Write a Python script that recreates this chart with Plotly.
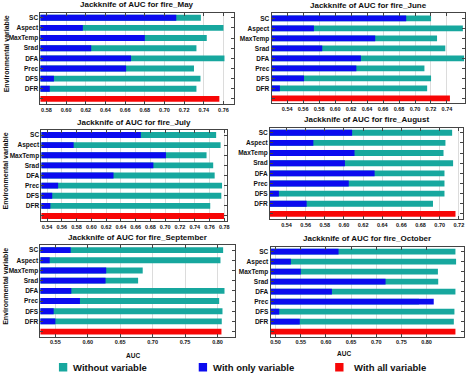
import plotly.graph_objects as go

# ---------------- data ----------------
variables = ["SC", "Aspect", "MaxTemp", "Srad", "DFA", "Prec", "DFS", "DFR"]
months = ["May", "June", "July", "August", "September", "October"]

may_without = [0.737, 0.760, 0.743, 0.7325, 0.761, 0.730, 0.7366, 0.7325]
may_only = [0.712, 0.617, 0.680, 0.6255, 0.666, 0.661, 0.5876, 0.5834]
may_all = 0.7558

june_without = [0.7201, 0.7599, 0.7276, 0.7379, 0.7615, 0.7118, 0.7201, 0.7152]
june_only = [0.689, 0.5735, 0.6502, 0.5839, 0.6323, 0.6266, 0.5611, 0.5309]
june_all = 0.7437

july_without = [0.769, 0.775, 0.756, 0.765, 0.767, 0.777, 0.776, 0.761]
july_only = [0.667, 0.576, 0.701, 0.684, 0.630, 0.555, 0.547, 0.5445]
july_all = 0.7796

august_without = [0.713, 0.706, 0.704, 0.714, 0.705, 0.705, 0.705, 0.693]
august_only = [0.6085, 0.568, 0.611, 0.601, 0.632, 0.605, 0.532, 0.561]
august_all = 0.7165

september_without = [0.8087, 0.8046, 0.6847, 0.6776, 0.8108, 0.8026, 0.8077, 0.8066]
september_only = [0.5736, 0.5413, 0.6284, 0.6274, 0.5746, 0.5879, 0.5474, 0.55]
september_all = 0.8061

october_without = [0.8573, 0.8586, 0.8225, 0.8231, 0.8573, 0.785, 0.8553, 0.8541]
october_only = [0.6251, 0.5304, 0.5501, 0.7185, 0.6119, 0.8142, 0.5073, 0.5481]
october_all = 0.8573

# tick labels per panel
may_ticks = [0.58, 0.60, 0.62, 0.64, 0.66, 0.68, 0.70, 0.72, 0.74, 0.76]
june_ticks = [0.54, 0.56, 0.58, 0.60, 0.62, 0.64, 0.66, 0.68, 0.70, 0.72, 0.74]
july_ticks = [0.54, 0.56, 0.58, 0.60, 0.62, 0.64, 0.66, 0.68, 0.70, 0.72, 0.74, 0.76, 0.78]
august_ticks = [0.54, 0.56, 0.58, 0.60, 0.62, 0.64, 0.66, 0.68, 0.70, 0.72]
september_ticks = [0.55, 0.60, 0.65, 0.70, 0.75, 0.80]
october_ticks = [0.50, 0.55, 0.60, 0.65, 0.70, 0.75, 0.80]

series_without = [may_without, june_without, july_without, august_without, september_without, october_without]
series_only = [may_only, june_only, july_only, august_only, september_only, october_only]
series_all = [may_all, june_all, july_all, august_all, september_all, october_all]
series_ticks = [may_ticks, june_ticks, july_ticks, august_ticks, september_ticks, october_ticks]

# ---------------- style ----------------
W, H = 474, 377
TEAL = "#17A79E"
BLUE = "#0B0BEF"
RED = "#F70606"
FONT = "Liberation Sans"
ALL_CAT = " "

# panel boxes in pixels: x0, x1, y0(top), y1(bottom), x range
panels = [
    (40.7, 235.7, 12.7, 104.0, [0.5739, 0.7709]),
    (273.3, 467.5, 13.3, 103.3, [0.5205, 0.7620]),
    (41.7, 228.0, 130.0, 221.0, [0.5324, 0.7831]),
    (271.7, 466.0, 127.7, 219.0, [0.5227, 0.7244]),
    (40.7, 236.5, 245.0, 336.7, [0.5270, 0.8270]),
    (272.3, 467.0, 246.7, 336.7, [0.4901, 0.8744]),
]


def px(x):
    return x / W


def py(y):
    return 1 - y / H


fig = go.Figure()
layout = dict(
    width=W, height=H,
    margin=dict(l=0, r=0, t=0, b=0),
    paper_bgcolor="white", plot_bgcolor="white",
    barmode="overlay", showlegend=False,
    font=dict(family=FONT, color="#111"),
)
annotations = []
shapes = []
cat_order = [ALL_CAT] + variables[::-1]

for i, (month, wo, on, al, tv, p) in enumerate(zip(months, series_without, series_only,
                                                   series_all, series_ticks, panels)):
    x0, x1, y0, y1, xr = p
    n = "" if i == 0 else str(i + 1)
    xa, ya = "x" + n, "y" + n
    fig.add_trace(go.Bar(x=wo, y=variables, orientation="h", width=0.58,
                         marker=dict(color=TEAL, line=dict(width=0)),
                         name="Without variable", xaxis=xa, yaxis=ya))
    fig.add_trace(go.Bar(x=on, y=variables, orientation="h", width=0.58,
                         marker=dict(color=BLUE, line=dict(width=0)),
                         name="With only variable", xaxis=xa, yaxis=ya))
    fig.add_trace(go.Bar(x=[al], y=[ALL_CAT], orientation="h", width=0.58,
                         marker=dict(color=RED, line=dict(width=0)),
                         name="With all variable", xaxis=xa, yaxis=ya))
    layout["xaxis" + n] = dict(
        domain=[px(x0), px(x1)], anchor=ya, range=xr,
        tickvals=tv, ticktext=["%.2f" % v for v in tv],
        ticks="inside", ticklen=3, tickcolor="#444", mirror="ticks",
        showline=True, linecolor="#444", linewidth=1,
        showgrid=True, gridcolor="#dcdcdc", gridwidth=1, zeroline=False,
        tickfont=dict(size=5.5, family=FONT, weight="bold", color="#111"),
    )
    layout["yaxis" + n] = dict(
        domain=[py(y1), py(y0)], anchor=xa,
        type="category", categoryorder="array", categoryarray=cat_order,
        range=[-0.5, 8.5],
        ticks="inside", ticklen=3, tickcolor="#444", mirror="ticks",
        showline=True, linecolor="#444", linewidth=1,
        showgrid=False, zeroline=False,
        tickfont=dict(size=6.5, family=FONT, weight="bold", color="#111"),
    )
    annotations.append(dict(
        text="Jackknife of AUC for fire_" + month,
        x=px((x0 + x1) / 2), y=py(y0 - 1.5), xref="paper", yref="paper",
        xanchor="center", yanchor="bottom", showarrow=False,
        font=dict(size=8, family=FONT, weight="bold", color="#111"),
    ))
    if i % 2 == 0:
        annotations.append(dict(
            text="Environmental variable", textangle=-90,
            x=px(6), y=py((y0 + y1) / 2 - 5), xref="paper", yref="paper",
            xanchor="center", yanchor="middle", showarrow=False,
            font=dict(size=7, family=FONT, weight="bold", color="#111"),
        ))

annotations.append(dict(text="AUC", x=px(134), y=py(355), xref="paper", yref="paper",
                        showarrow=False, xanchor="center", yanchor="middle",
                        font=dict(size=6.5, family=FONT, weight="bold", color="#111")))
annotations.append(dict(text="AUC", x=px(346), y=py(353), xref="paper", yref="paper",
                        showarrow=False, xanchor="center", yanchor="middle",
                        font=dict(size=6.5, family=FONT, weight="bold", color="#111")))

# legend (drawn as key squares + labels)
legend_items = [("Without variable", TEAL, 59.3, 12.4), ("With only variable", BLUE, 200.0, 12.3),
                ("With all variable", RED, 337.3, 17.0)]
for label, col, lx, off in legend_items:
    shapes.append(dict(type="rect", xref="paper", yref="paper",
                       x0=px(lx), x1=px(lx + 8.4), y0=py(371.5), y1=py(363.0),
                       fillcolor=col, line=dict(width=0)))
    annotations.append(dict(text=label, x=px(lx + off), y=py(367.7),
                            xref="paper", yref="paper", showarrow=False,
                            xanchor="left", yanchor="middle",
                            font=dict(size=9.5, family=FONT, weight="bold", color="#111")))

layout["annotations"] = annotations
layout["shapes"] = shapes
fig.update_layout(**layout)
fig.write_html("out.html", config={"displayModeBar": False},
               post_script="document.body.style.margin='0';document.body.style.padding='0';")
